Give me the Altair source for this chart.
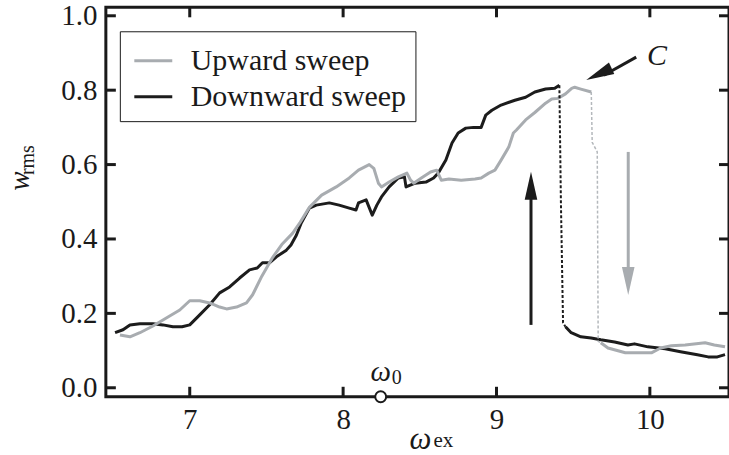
import altair as alt
import pandas as pd

# ---------------- data ----------------
up_x1 = [6.545, 6.61, 6.675, 6.76, 6.85, 6.935, 7.0, 7.065, 7.13, 7.195, 7.24, 7.305, 7.37, 7.41,
         7.47, 7.54, 7.60, 7.67, 7.72, 7.78, 7.86, 7.955, 8.04, 8.10, 8.17, 8.20, 8.23, 8.25, 8.30,
         8.36, 8.416, 8.44, 8.46, 8.51, 8.57, 8.61, 8.64, 8.69, 8.77, 8.86, 8.90, 8.95, 8.99, 9.03,
         9.08, 9.11, 9.13, 9.19, 9.25, 9.32, 9.36, 9.40, 9.45, 9.49, 9.51, 9.55, 9.618]
up_y1 = [0.142, 0.137, 0.148, 0.166, 0.188, 0.209, 0.234, 0.234, 0.228, 0.217, 0.212, 0.217, 0.228, 0.25,
         0.30, 0.35, 0.385, 0.415, 0.445, 0.485, 0.518, 0.54, 0.564, 0.585, 0.60, 0.59, 0.55, 0.54, 0.553,
         0.567, 0.577, 0.558, 0.55, 0.564, 0.58, 0.585, 0.558, 0.561, 0.558, 0.561, 0.564, 0.577, 0.585, 0.612,
         0.647, 0.685, 0.693, 0.72, 0.74, 0.765, 0.776, 0.778, 0.79, 0.805, 0.808, 0.803, 0.795]
up_jump_x = [9.618, 9.624, 9.657, 9.663, 9.68]
up_jump_y = [0.795, 0.66, 0.634, 0.125, 0.121]
up_x2 = [9.68, 9.727, 9.84, 10.01, 10.07, 10.14, 10.23, 10.36, 10.42, 10.49]
up_y2 = [0.121, 0.107, 0.094, 0.094, 0.107, 0.113, 0.115, 0.121, 0.115, 0.11]

down_x1 = [6.513, 6.565, 6.61, 6.675, 6.76, 6.825, 6.89, 6.95, 7.0, 7.065, 7.13, 7.195, 7.26, 7.325,
           7.39, 7.44, 7.474, 7.52, 7.565, 7.63, 7.66, 7.695, 7.727, 7.78, 7.825, 7.91, 7.974, 8.04,
           8.084, 8.10, 8.15, 8.19, 8.22, 8.25, 8.30, 8.36, 8.40, 8.41, 8.47, 8.54, 8.59, 8.62, 8.67,
           8.71, 8.75, 8.80, 8.85, 8.90, 8.93, 8.97, 9.03, 9.12, 9.19, 9.25, 9.32, 9.38, 9.41]
down_y1 = [0.148, 0.156, 0.169, 0.172, 0.172, 0.169, 0.164, 0.164, 0.169, 0.196, 0.223, 0.255, 0.271, 0.295,
           0.317, 0.322, 0.336, 0.336, 0.352, 0.37, 0.384, 0.41, 0.443, 0.483, 0.491, 0.497, 0.491, 0.483,
           0.478, 0.497, 0.505, 0.464, 0.491, 0.513, 0.54, 0.564, 0.567, 0.54, 0.55, 0.553, 0.564, 0.577, 0.612,
           0.658, 0.685, 0.698, 0.70, 0.70, 0.733, 0.746, 0.76, 0.773, 0.781, 0.795, 0.803, 0.805, 0.813]
down_jump_x = [9.41, 9.42, 9.434, 9.45]
down_jump_y = [0.813, 0.5, 0.175, 0.164]
down_x2 = [9.45, 9.487, 9.55, 9.617, 9.68, 9.77, 9.857, 9.90, 9.987, 10.10, 10.20, 10.31, 10.38, 10.44, 10.49]
down_y2 = [0.164, 0.148, 0.137, 0.134, 0.129, 0.123, 0.115, 0.118, 0.11, 0.105, 0.097, 0.089, 0.083, 0.083, 0.089]

series_names = ["Upward sweep", "Downward sweep"]
series_colors = ["#a8acb0", "#1c1c1c"]

x_ticks = [7, 8, 9, 10]
y_ticks = [0.0, 0.2, 0.4, 0.6, 0.8, 1.0]
x_domain = [6.453, 10.516]
y_domain = [-0.0242, 1.0228]

omega0 = 8.245

# arrows (data units)
arrows = pd.DataFrame({
    "x": [9.225, 9.859, 9.911],
    "y": [0.169, 0.634, 0.889],
    "x2": [9.225, 9.859, 9.70],
    "y2": [0.52, 0.30, 0.84],
    "color": ["#1c1c1c", "#a8acb0", "#1c1c1c"],
})
heads = pd.DataFrame({
    "x": [9.225, 9.859, 9.668],
    "y": [0.543, 0.287, 0.843],
    "angle": [0, 180, 245],
    "color": ["#1c1c1c", "#a8acb0", "#1c1c1c"],
})

# ---------------- build tables ----------------
def seg(xs, ys, name, segid):
    return pd.DataFrame({"x": xs, "y": ys, "sweep": name, "seg": segid, "i": range(len(xs))})

solid_up = pd.concat([seg(up_x1, up_y1, series_names[0], "a"), seg(up_x2, up_y2, series_names[0], "b")])
solid_down = pd.concat([seg(down_x1, down_y1, series_names[1], "a"), seg(down_x2, down_y2, series_names[1], "b")])
jump_up = seg(up_jump_x, up_jump_y, series_names[0], "j")
jump_down = seg(down_jump_x, down_jump_y, series_names[1], "j")

W, H = 624, 390
FONT = "Liberation Serif"
INK = "#1a1a1a"

xs = alt.Scale(domain=x_domain, nice=False, zero=False)
ys = alt.Scale(domain=y_domain, nice=False, zero=False)
cscale = alt.Scale(domain=series_names, range=series_colors)

legend = alt.Legend(
    title=None, orient="none", legendX=14, legendY=24, symbolType="stroke",
    symbolSize=1444, symbolStrokeWidth=3, labelFont=FONT, labelFontSize=30,
    labelOffset=17, symbolOffset=4, padding=9, rowPadding=0, labelLimit=0,
    strokeColor=INK, fillColor="white", labelColor=INK,
)

xaxis = alt.Axis(values=x_ticks, format="d", ticks=False, tickSize=0, domain=False, grid=False, title=None,
                 labelFont=FONT, labelFontSize=29, labelPadding=9, labelColor=INK)
yaxis = alt.Axis(values=y_ticks, format=".1f", ticks=False, tickSize=0, domain=False, grid=False,
                 title=None, labelFont=FONT, labelFontSize=29, labelPadding=9, labelColor=INK)

black_line = alt.Chart(solid_down).mark_line(strokeWidth=3, strokeJoin="round").encode(
    x=alt.X("x:Q", scale=xs, axis=xaxis),
    y=alt.Y("y:Q", scale=ys, axis=yaxis),
    color=alt.Color("sweep:N", scale=cscale, legend=legend),
    detail="seg:N",
    order="i:Q",
)
gray_line = alt.Chart(solid_up).mark_line(strokeWidth=3, strokeJoin="round").encode(
    x=alt.X("x:Q", scale=xs, axis=xaxis),
    y=alt.Y("y:Q", scale=ys, axis=yaxis),
    color=alt.Color("sweep:N", scale=cscale, legend=legend),
    detail="seg:N",
    order="i:Q",
)
jump_black = alt.Chart(jump_down).mark_line(strokeWidth=2, strokeDash=[3, 2], color="#1c1c1c").encode(
    x=alt.X("x:Q", scale=xs), y=alt.Y("y:Q", scale=ys), order="i:Q")
jump_gray = alt.Chart(jump_up).mark_line(strokeWidth=1.5, strokeDash=[3, 2], color="#b4b8bc").encode(
    x=alt.X("x:Q", scale=xs), y=alt.Y("y:Q", scale=ys), order="i:Q")

# inward ticks
xt = pd.DataFrame({"v": x_ticks})
yt = pd.DataFrame({"v": y_ticks})
tick_bottom = alt.Chart(xt).mark_rule(strokeWidth=3, color=INK).encode(
    x=alt.X("v:Q", scale=xs), y=alt.value(H), y2=alt.value(H - 10))
tick_top = alt.Chart(xt).mark_rule(strokeWidth=3, color=INK).encode(
    x=alt.X("v:Q", scale=xs), y=alt.value(0), y2=alt.value(10))
tick_left = alt.Chart(yt).mark_rule(strokeWidth=3, color=INK).encode(
    y=alt.Y("v:Q", scale=ys), x=alt.value(0), x2=alt.value(10))
tick_right = alt.Chart(yt).mark_rule(strokeWidth=3, color=INK).encode(
    y=alt.Y("v:Q", scale=ys), x=alt.value(W), x2=alt.value(W - 10))

arrow_lines = alt.Chart(arrows).mark_rule(strokeWidth=3).encode(
    x=alt.X("x:Q", scale=xs), y=alt.Y("y:Q", scale=ys),
    x2="x2:Q", y2="y2:Q", color=alt.Color("color:N", scale=None))
arrow_heads = alt.Chart(heads).mark_point(
    shape="M0,-1L0.45,1L-0.45,1Z", size=784, filled=True, opacity=1, strokeWidth=0
).encode(
    x=alt.X("x:Q", scale=xs), y=alt.Y("y:Q", scale=ys),
    angle=alt.Angle("angle:Q", scale=None), color=alt.Color("color:N", scale=None))

w0 = pd.DataFrame({"x": [omega0], "y": [y_domain[0]]})
omega_circle = alt.Chart(w0).mark_point(
    shape="circle", size=120, filled=True, fill="white", stroke=INK, strokeWidth=2, opacity=1
).encode(x=alt.X("x:Q", scale=xs), y=alt.value(H))
omega_lbl = alt.Chart(w0).mark_text(font=FONT, fontSize=29, fontStyle="italic", color=INK,
                                    align="center", baseline="middle", dy=-25).encode(
    x=alt.X("x:Q", scale=xs), y=alt.value(H), text=alt.value("ω"))
omega_sub = alt.Chart(w0).mark_text(font=FONT, fontSize=20, color=INK,
                                    align="left", baseline="middle", dx=11, dy=-19).encode(
    x=alt.X("x:Q", scale=xs), y=alt.value(H), text=alt.value("0"))


def label(txt, px, py, size, italic=False, angle=0, align="center"):
    kw = dict(font=FONT, fontSize=size, color=INK, align=align, baseline="middle")
    if italic:
        kw["fontStyle"] = "italic"
    if angle:
        kw["angle"] = angle
    return alt.Chart(pd.DataFrame({"t": [txt]})).mark_text(**kw).encode(
        x=alt.value(px), y=alt.value(py), text="t:N")


c_lbl = label("C", 552, 49, 30, italic=True)
xt1 = label("ω", 315, 433, 31, italic=True)
xt2 = label("ex", 328, 434, 21, align="left")
yt1 = label("w", -86, 174, 29, italic=True, angle=270)
yt2 = label("rms", -78, 153, 20, angle=270)

chart = alt.layer(
    black_line, gray_line, jump_black, jump_gray,
    tick_bottom, tick_top, tick_left, tick_right,
    arrow_lines, arrow_heads, omega_circle, omega_lbl, omega_sub,
    c_lbl, xt1, xt2, yt1, yt2,
).properties(
    width=W, height=H,
    background="white",
    autosize=alt.AutoSizeParams(type="none"),
    padding={"left": 106, "top": 7, "right": 0, "bottom": 58},
).configure_axis(
    labelFont=FONT, labelFontSize=29, labelColor=INK
).configure_legend(
    labelFont=FONT, labelFontSize=30, labelColor=INK, labelLimit=0
).configure_view(
    stroke=INK, strokeWidth=3
)

chart.save("out.html", embed_options={"renderer": "svg", "actions": False})
